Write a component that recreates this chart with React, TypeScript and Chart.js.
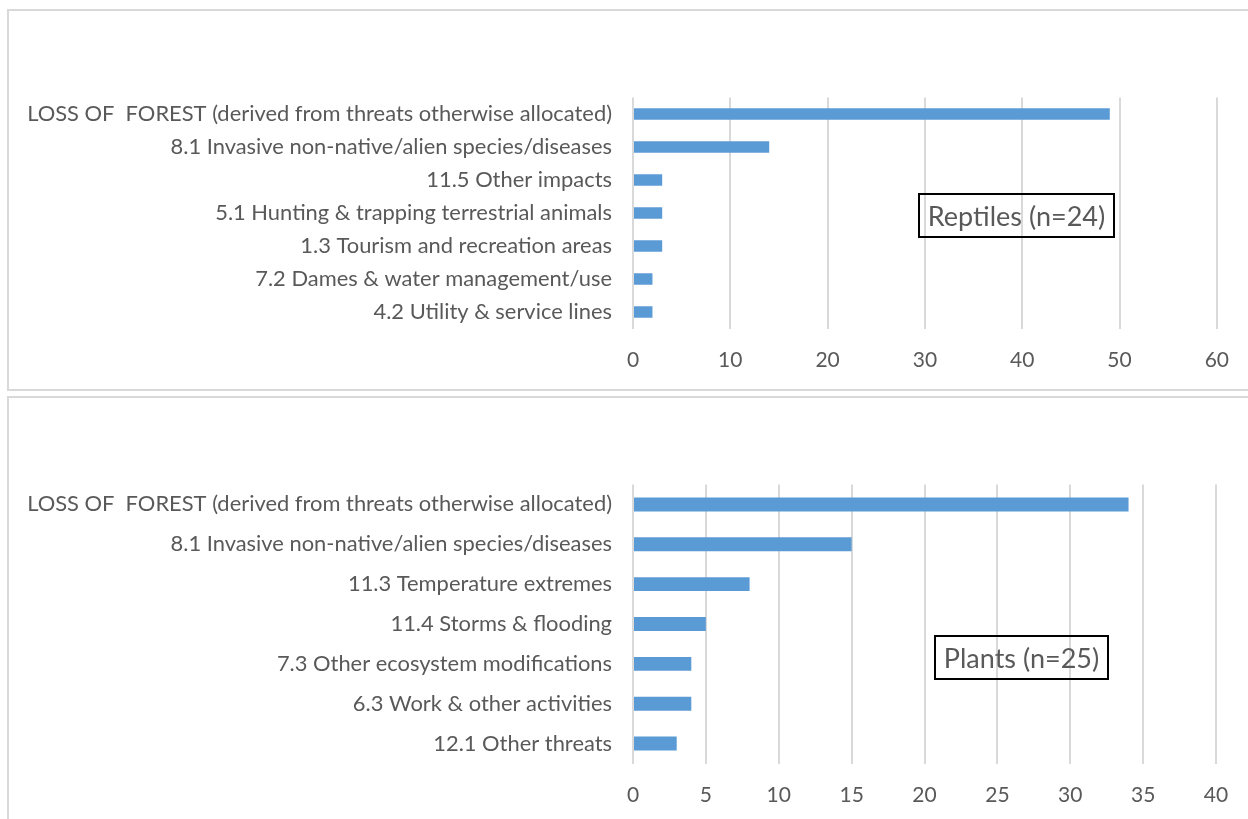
import React, { useEffect, useRef } from "react";
import { Chart, registerables } from "chart.js";

Chart.register(...registerables);

const reptileCategories = [
  "LOSS OF  FOREST (derived from threats otherwise allocated)",
  "8.1 Invasive non-native/alien species/diseases",
  "11.5 Other impacts",
  "5.1 Hunting & trapping terrestrial animals",
  "1.3 Tourism and recreation areas",
  "7.2 Dames & water management/use",
  "4.2 Utility & service lines",
];
const reptileValues = [49, 14, 3, 3, 3, 2, 2];
const reptileTicks = [0, 10, 20, 30, 40, 50, 60];

const plantCategories = [
  "LOSS OF  FOREST (derived from threats otherwise allocated)",
  "8.1 Invasive non-native/alien species/diseases",
  "11.3 Temperature extremes",
  "11.4 Storms & flooding",
  "7.3 Other ecosystem modifications",
  "6.3 Work & other activities",
  "12.1 Other threats",
];
const plantValues = [34, 15, 8, 5, 4, 4, 3];
const plantTicks = [0, 5, 10, 15, 20, 25, 30, 35, 40];

const FONT = "Lato, 'Open Sans', sans-serif";
const TEXT = "#595959";
const GRID = "#d9d9d9";
const BAR = "#5b9bd5";

type PanelProps = {
  categories: string[];
  values: number[];
  ticks: number[];
  height: number;
  padTop: number;
  padRight: number;
  yWidth: number;
  xHeight: number;
  xPad: number;
};

function BarPanel(p: PanelProps) {
  const ref = useRef<HTMLCanvasElement | null>(null);
  useEffect(() => {
    if (!ref.current) return;
    const max = p.ticks[p.ticks.length - 1];
    const step = p.ticks[1] - p.ticks[0];
    const chart = new Chart(ref.current, {
      type: "bar",
      data: {
        labels: p.categories,
        datasets: [
          {
            data: p.values,
            backgroundColor: BAR,
            borderWidth: 0,
            categoryPercentage: 1,
            barPercentage: 0.35,
          },
        ],
      },
      options: {
        indexAxis: "y",
        animation: false,
        responsive: false,
        maintainAspectRatio: false,
        layout: { padding: { top: p.padTop, right: p.padRight, left: 0, bottom: 0 } },
        plugins: { legend: { display: false }, tooltip: { enabled: false }, title: { display: false } },
        scales: {
          x: {
            min: 0,
            max,
            ticks: {
              stepSize: step,
              color: TEXT,
              font: { family: FONT, size: 21 },
              padding: p.xPad,
            },
            grid: { color: GRID, lineWidth: 2, drawTicks: false },
            border: { display: false },
            afterFit: (s: any) => {
              s.height = p.xHeight;
            },
          },
          y: {
            ticks: {
              color: TEXT,
              font: { family: FONT, size: 21.9 },
              padding: 21,
              autoSkip: false,
            },
            grid: { display: false, drawTicks: false },
            border: { display: false },
            afterFit: (s: any) => {
              s.width = p.yWidth;
            },
          },
        },
      },
    } as any);
    return () => chart.destroy();
  }, []);
  return <canvas ref={ref} width={1240} height={p.height} style={{ display: "block" }} />;
}

const boxStyle: React.CSSProperties = {
  position: "absolute",
  border: "2px solid #000",
  boxSizing: "border-box",
  color: TEXT,
  fontFamily: FONT,
  fontSize: 27,
  display: "flex",
  alignItems: "center",
  justifyContent: "center",
  whiteSpace: "nowrap",
};

export default function App() {
  return (
    <div
      style={{
        position: "fixed",
        left: 0,
        top: 0,
        width: 1248,
        height: 819,
        overflow: "hidden",
        background: "#fff",
      }}
    >
      <div
        style={{
          position: "absolute",
          left: 7,
          top: 9,
          width: 1260,
          height: 382,
          border: `2px solid ${GRID}`,
          boxSizing: "border-box",
        }}
      />
      <div style={{ position: "absolute", left: 8, top: 10 }}>
        <BarPanel
          categories={reptileCategories}
          values={reptileValues}
          ticks={reptileTicks}
          height={380}
          padTop={87.5}
          padRight={30}
          yWidth={625}
          xHeight={61.5}
          xPad={19}
        />
      </div>
      <div style={{ ...boxStyle, left: 918, top: 193, width: 197, height: 45 }}>Reptiles (n=24)</div>

      <div
        style={{
          position: "absolute",
          left: 7,
          top: 396,
          width: 1260,
          height: 500,
          border: `2px solid ${GRID}`,
          boxSizing: "border-box",
        }}
      />
      <div style={{ position: "absolute", left: 8, top: 397 }}>
        <BarPanel
          categories={plantCategories}
          values={plantValues}
          ticks={plantTicks}
          height={422}
          padTop={87.5}
          padRight={32}
          yWidth={625}
          xHeight={55.5}
          xPad={19}
        />
      </div>
      <div style={{ ...boxStyle, left: 934, top: 635, width: 175, height: 45 }}>Plants (n=25)</div>
    </div>
  );
}
